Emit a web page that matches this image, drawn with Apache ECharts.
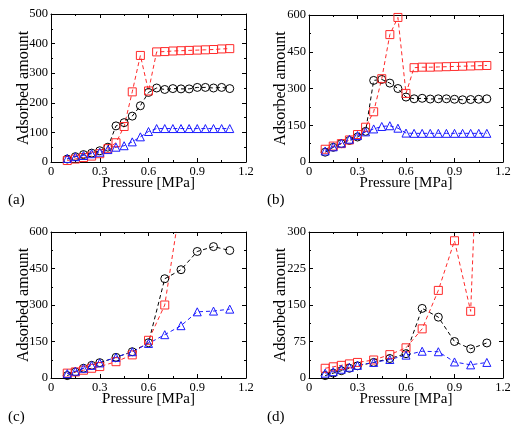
<!DOCTYPE html>
<html>
<head>
<meta charset="utf-8">
<script src="https://cdn.jsdelivr.net/npm/echarts@6/dist/echarts.min.js"></script>
<style>
  html, body { margin: 0; padding: 0; background: #fff; }
  #chart { width: 525px; height: 430px; }
</style>
</head>
<body>
<div id="chart"></div>
<script>
// pressures
const pFine = [0.1, 0.15, 0.2, 0.25, 0.3, 0.35, 0.4, 0.45, 0.5, 0.55, 0.6, 0.65, 0.7, 0.75, 0.8, 0.85, 0.9, 0.95, 1.0, 1.05, 1.1];
const pCoarse = [0.1, 0.15, 0.2, 0.25, 0.3, 0.4, 0.5, 0.6, 0.7, 0.8, 0.9, 1.0, 1.1];

// panel (a)
const aBlack = [10, 18, 25, 30, 38, 50, 122, 133, 155, 190, 235, 250, 245, 248, 247, 247, 252, 252, 250, 252, 248];
const aRed = [5, 10, 15, 20, 28, 45, 65, 120, 237, 360, 240, 372, 373, 375, 376, 377, 378, 379, 380, 382, 383];
const aBlue = [12, 18, 22, 28, 33, 42, 50, 55, 68, 85, 103, 113, 113, 113, 113, 113, 113, 113, 113, 113, 113];

// panel (b)
const bBlack = [40, 60, 75, 88, 102, 125, 333, 337, 322, 300, 265, 258, 260, 257, 258, 258, 256, 254, 255, 256, 258];
const bRed = [52, 65, 75, 90, 112, 142, 205, 340, 520, 590, 280, 385, 387, 387, 388, 389, 390, 391, 392, 393, 394];
const bBlue = [45, 62, 77, 93, 108, 123, 135, 145, 148, 138, 118, 117, 117, 117, 117, 117, 117, 117, 117, 117, 117];

// panel (c)
const cBlack = [10, 25, 40, 52, 63, 85, 108, 145, 408, 445, 520, 540, 524];
const cRed = [20, 25, 32, 40, 47, 67, 95, 155, 300, 730];
const cBlue = [18, 28, 40, 52, 62, 85, 108, 142, 178, 215, 272, 275, 283];

// panel (d)
const dBlack = [5, 10, 15, 20, 25, 32, 40, 50, 143, 125, 75, 60, 72];
const dRed = [20, 23, 26, 29, 32, 37, 48, 62, 101, 180, 282, 137, 990];
const dBlue = [10, 13, 18, 22, 26, 32, 38, 47, 55, 54, 33, 27, 32];

const xTicks = [0, 0.3, 0.6, 0.9, 1.2];
const yMax = [500, 600, 600, 300];
const yStep = [100, 150, 150, 75];
const panelLabels = ['(a)', '(b)', '(c)', '(d)'];

const grids = [
  { left: 51, top: 14, width: 195, height: 148 },
  { left: 309, top: 15, width: 194, height: 147 },
  { left: 51, top: 232, width: 195, height: 146 },
  { left: 309, top: 232, width: 194, height: 146 }
];
const yNameGap = [19, 20, 19, 20];

const font = 'Liberation Serif';
const tickOpts = { show: true, inside: true, length: 4, lineStyle: { color: '#000', width: 1 } };
const minorOpts = { show: true, splitNumber: 2, length: 2, lineStyle: { color: '#000', width: 1 } };

const xAxes = [], yAxes = [];
grids.forEach((g, i) => {
  xAxes.push({
    gridIndex: i, type: 'value', min: 0, max: 1.2, interval: 0.3,
    position: 'bottom',
    name: 'Pressure [MPa]', nameLocation: 'middle', nameGap: 14, nameMoveOverlap: false,
    nameTextStyle: { fontFamily: font, fontSize: 15, color: '#000' },
    axisLine: { show: true, onZero: false, lineStyle: { color: '#000', width: 1 } },
    axisTick: tickOpts, minorTick: minorOpts,
    axisLabel: { fontFamily: font, fontSize: 12.5, color: '#000', margin: 3,
      formatter: v => xTicks.indexOf(Math.round(v * 10) / 10) >= 0 ? String(Math.round(v * 10) / 10) : '' },
    splitLine: { show: false }
  });
  xAxes.push({
    gridIndex: i, type: 'value', min: 0, max: 1.2, interval: 0.3, position: 'top',
    axisLine: { show: true, onZero: false, lineStyle: { color: '#000', width: 1 } },
    axisTick: tickOpts, minorTick: minorOpts, axisLabel: { show: false }, splitLine: { show: false }
  });
  yAxes.push({
    gridIndex: i, type: 'value', min: 0, max: yMax[i], interval: yStep[i],
    position: 'left',
    name: 'Adsorbed amount', nameLocation: 'middle', nameGap: yNameGap[i], nameMoveOverlap: false,
    nameTextStyle: { fontFamily: font, fontSize: 16, color: '#000' },
    axisLine: { show: true, onZero: false, lineStyle: { color: '#000', width: 1 } },
    axisTick: tickOpts, minorTick: minorOpts,
    axisLabel: { fontFamily: font, fontSize: 12.5, color: '#000', margin: 3 },
    splitLine: { show: false }
  });
  yAxes.push({
    gridIndex: i, type: 'value', min: 0, max: yMax[i], interval: yStep[i], position: 'right',
    axisLine: { show: true, onZero: false, lineStyle: { color: '#000', width: 1 } },
    axisTick: tickOpts, minorTick: minorOpts, axisLabel: { show: false }, splitLine: { show: false }
  });
});

function pairs(xs, ys) {
  return ys.map((y, k) => [xs[k], y]);
}

function mkSeries(i, xs, ys, color, symbol, size) {
  return {
    type: 'line', xAxisIndex: i * 2, yAxisIndex: i * 2,
    data: pairs(xs, ys), symbol: symbol, symbolSize: size, showAllSymbol: true,
    lineStyle: { color: color, width: 1, type: [4, 3] },
    itemStyle: { color: 'rgba(0,0,0,0)', borderColor: color, borderWidth: 1 },
    emphasis: { disabled: true }, animation: false, clip: true
  };
}

const black = '#000000', red = '#ff2a2a', blue = '#1a1aff';
const series = [
  mkSeries(0, pFine, aBlack, black, 'circle', 8),
  mkSeries(0, pFine, aRed, red, 'rect', 8),
  mkSeries(0, pFine, aBlue, blue, 'triangle', 8),
  mkSeries(1, pFine, bBlack, black, 'circle', 8),
  mkSeries(1, pFine, bRed, red, 'rect', 8),
  mkSeries(1, pFine, bBlue, blue, 'triangle', 8),
  mkSeries(2, pCoarse, cBlack, black, 'circle', 8),
  mkSeries(2, pCoarse, cRed, red, 'rect', 8),
  mkSeries(2, pCoarse, cBlue, blue, 'triangle', 8),
  mkSeries(3, pCoarse, dBlack, black, 'circle', 8),
  mkSeries(3, pCoarse, dRed, red, 'rect', 8),
  mkSeries(3, pCoarse, dBlue, blue, 'triangle', 8)
];

const labelPos = [[8, 193], [267, 193], [8, 410], [267, 410]];
const graphics = panelLabels.map((t, i) => ({
  type: 'text', left: labelPos[i][0], top: labelPos[i][1],
  style: { text: t, fontFamily: font, fontSize: 15, fill: '#000' }
}));

const chart = echarts.init(document.getElementById('chart'));
chart.setOption({
  backgroundColor: '#fff',
  animation: false,
  grid: grids,
  xAxis: xAxes,
  yAxis: yAxes,
  series: series,
  graphic: graphics
});
</script>
</body>
</html>
